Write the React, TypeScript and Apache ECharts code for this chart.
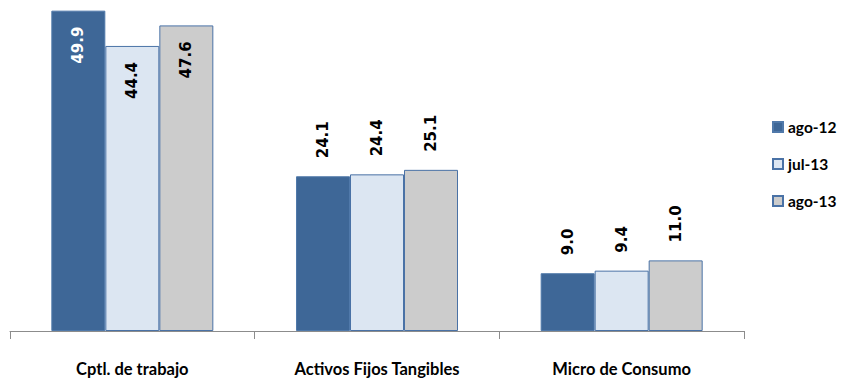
import React, { useEffect, useRef } from "react";
import * as echarts from "echarts";

const categories = ["Cptl. de trabajo", "Activos Fijos Tangibles", "Micro de Consumo"];
const seriesNames = ["ago-12", "jul-13", "ago-13"];
const ago12 = [49.9, 24.1, 9.0];
const jul13 = [44.4, 24.4, 9.4];
const ago13 = [47.6, 25.1, 11.0];
const fills = ["#3E6797", "#DCE6F2", "#CCCCCC"];
const borders = ["#5079AA", "#4A72A6", "#4A72A6"];
const insideLabelColors = ["#FFFFFF", "#000000", "#000000"];

export default function App() {
  const ref = useRef<HTMLDivElement>(null);
  useEffect(() => {
    if (!ref.current) return;
    const chart = echarts.init(ref.current, undefined, { renderer: "svg" });
    const allData = [ago12, jul13, ago13];
    const labelFont = {
      fontFamily: "DejaVu Sans",
      fontWeight: "bold" as const,
      fontSize: 15,
    };
    const series = allData.map((vals, si) => ({
      name: seriesNames[si],
      type: "bar",
      barWidth: 54,
      barGap: "0%",
      itemStyle: { color: fills[si], borderColor: borders[si], borderWidth: 1 },
      data: vals.map((v, ci) => {
        const inside = ci === 0;
        return {
          value: v,
          label: {
            show: true,
            formatter: (p: any) => Number(p.value).toFixed(1),
            rotate: 90,
            position: inside ? "insideTop" : "top",
            distance: inside ? 16 : 18,
            align: inside ? "right" : "left",
            verticalAlign: "middle",
            color: inside ? insideLabelColors[si] : "#000000",
            ...labelFont,
          },
        };
      }),
    }));
    chart.setOption({
      animation: false,
      grid: { left: 10, right: 99, top: 10, bottom: 47 },
      legend: {
        orient: "vertical",
        left: 767,
        top: 114,
        itemWidth: 10,
        itemHeight: 10,
        itemGap: 21,
        icon: "rect",
        textStyle: {
          fontFamily: "Lato",
          fontWeight: "bold",
          fontSize: 15.5,
          lineHeight: 16,
          color: "#000",
        },
        data: seriesNames,
      },
      xAxis: {
        type: "category",
        data: categories,
        axisLine: { lineStyle: { color: "#8C8C8C", width: 1 } },
        axisTick: { show: true, length: 8, lineStyle: { color: "#8C8C8C" } },
        axisLabel: {
          margin: 29,
          color: "#000",
          fontFamily: "Lato",
          fontWeight: "bold",
          fontSize: 16.5,
        },
      },
      yAxis: {
        type: "value",
        min: 0,
        max: 50,
        show: false,
        splitLine: { show: false },
      },
      series,
    });
    return () => chart.dispose();
  }, []);
  return (
    <div
      ref={ref}
      style={{ width: 843, height: 378, position: "absolute", left: 0, top: 0 }}
    />
  );
}
